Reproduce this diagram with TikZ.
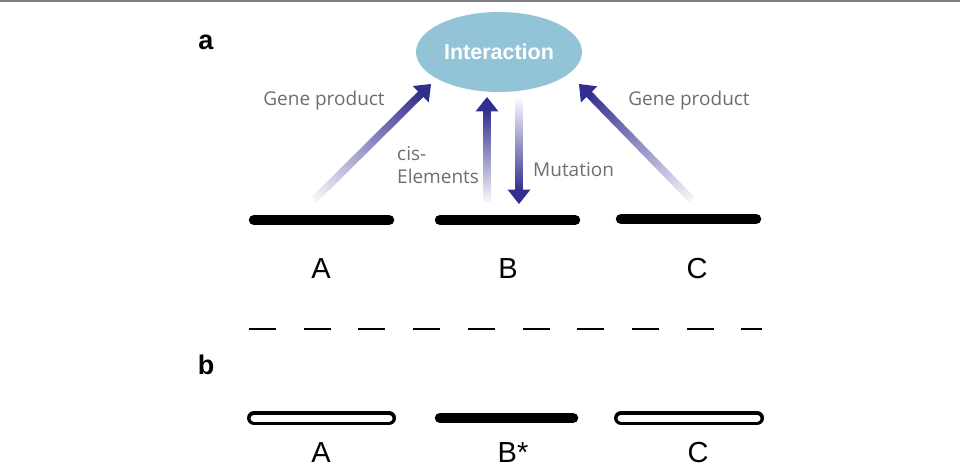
\documentclass[tikz,border=0pt]{standalone}
\usepackage{fontspec}
\setmainfont{Liberation Sans}
\newfontfamily\notefont{Open Sans}
\usetikzlibrary{positioning, calc, shapes.geometric}
\definecolor{ArrowBlue}{HTML}{322E8F}
\definecolor{InterBlue}{HTML}{93C3D6}
\definecolor{NoteGray}{HTML}{6D6E71}
\tikzset{
  bar/.style={line width=10.5pt, line cap=round},
  hollowbar/.style={line width=3.5pt, double=white, double distance=7pt, line cap=round},
  gene/.style={font=\fontsize{29}{32}\selectfont, inner sep=0pt},
  note/.style={font=\notefont\fontsize{19}{23}\selectfont, text=NoteGray, inner sep=0pt, align=left},
  panel/.style={font=\bfseries\fontsize{27}{29}\selectfont, inner sep=0pt}
}
% shaded arrow from #1 (pale) to #2 (dark head)
\newcommand\gradarrow[2]{%
  \path let \p1=($(#2)-(#1)$) in
    \pgfextra{\pgfmathsetmacro\garang{atan2(\y1,\x1)}\pgfmathsetmacro\garlen{veclen(\x1,\y1)}%
      \xdef\garang{\garang}\xdef\garlen{\garlen}};
  \begin{scope}[transform canvas={shift={(#1)},rotate=\garang}]
    \shade[left color=ArrowBlue!4, right color=ArrowBlue] (0,-3.8) rectangle (\garlen-13,3.8);
    \fill[ArrowBlue] (\garlen-14.5,-11.5) -- (\garlen,0) -- (\garlen-14.5,11.5) -- cycle;
  \end{scope}}

\begin{document}
\begin{tikzpicture}[x=1pt, y=-1pt]
  \useasboundingbox (0,0) rectangle (960,468);
  \draw[gray, line width=2pt] (0,1) -- (960,1);

  % panel a
  \node[panel] (pa) at (206,42) {a};
  \node[ellipse, fill=InterBlue, minimum width=166pt, minimum height=80pt, inner sep=0pt,
        text=white, font=\bfseries\fontsize{21.5}{24}\selectfont] (inter) at (499,52) {Interaction};

  \draw[bar] (254,220) -- (389,220);
  \draw[bar] (440,220) -- (575,220);
  \draw[bar] (621,219) -- (756,219);
  \node[gene] (ga) at (321,269) {A};
  \node[gene] (gb) at (508,269) {B};
  \node[gene] (gc) at (697,269) {C};

  \coordinate (gpAtail) at (314,200);
  \coordinate (gpAtip) at (431,84);
  \coordinate (cisTail) at (487,201);
  \coordinate (cisTip) at (487,97);
  \coordinate (mutTail) at (519,100);
  \coordinate (mutTip) at (519,204);
  \coordinate (gpCtail) at (692,200);
  \coordinate (gpCtip) at (579,84);
  \gradarrow{gpAtail}{gpAtip}
  \gradarrow{cisTail}{cisTip}
  \gradarrow{mutTail}{mutTip}
  \gradarrow{gpCtail}{gpCtip}

  \node[note] (gpA) at (324,101) {Gene product};
  \node[note, anchor=west] (cis) at (397,165) {cis-\\Elements};
  \node[note, anchor=west] (mut) at (533,170) {Mutation};
  \node[note] (gpC) at (689,101) {Gene product};

  \draw[line width=1.5pt, dash pattern=on 27pt off 27.7pt] (249,329) -- (762,329);

  % panel b
  \node[panel] (pb) at (206,365) {b};
  \draw[hollowbar] (254,418) -- (389,418);
  \draw[bar] (440,418) -- (573,418);
  \draw[hollowbar] (621,418) -- (757,418);
  \node[gene] (ba) at (321,453) {A};
  \node[gene] (bb) at (513,453) {B*};
  \node[gene] (bc) at (698,453) {C};
\end{tikzpicture}
\end{document}
